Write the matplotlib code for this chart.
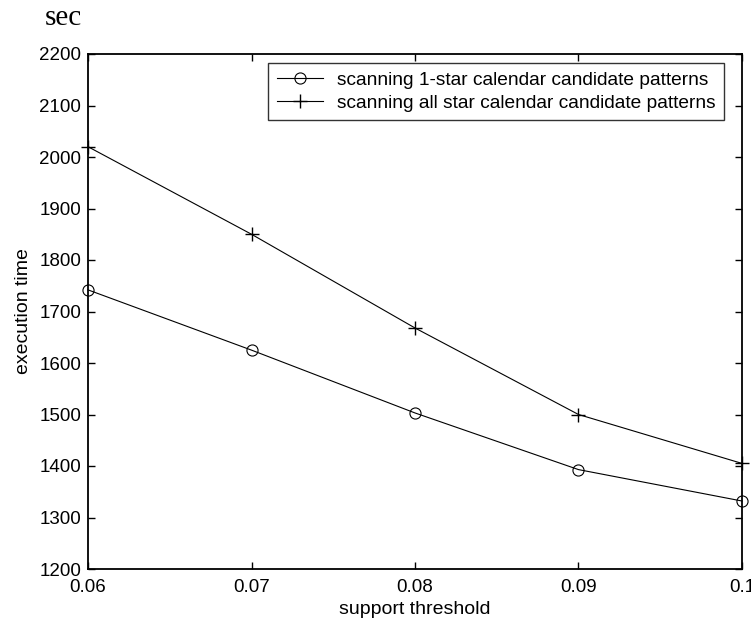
import matplotlib
matplotlib.use("Agg")
import matplotlib.pyplot as plt

support = [0.06, 0.07, 0.08, 0.09, 0.10]
one_star = [1742, 1625, 1503, 1393, 1332]
all_star = [2020, 1850, 1668, 1500, 1405]
xticks = [0.06, 0.07, 0.08, 0.09, 0.1]
xticklabels = ["0.06", "0.07", "0.08", "0.09", "0.1"]
yticks = list(range(1200, 2201, 100))

plt.rcParams['font.family'] = ['Liberation Sans', 'DejaVu Sans']

fig = plt.figure(figsize=(7.51, 6.22), dpi=100)
ax = fig.add_axes([88/751, 1 - 569/622, (742 - 88)/751, (569 - 54)/622])

ax.plot(support, one_star, color='black', lw=0.8, marker='o', ms=8,
        mfc='none', mec='black', mew=0.8,
        label='scanning 1-star calendar candidate patterns', clip_on=False)
ax.plot(support, all_star, color='black', lw=0.8, marker='+', ms=10,
        mew=1.0, label='scanning all star calendar candidate patterns', clip_on=False)

ax.set_xlim(0.06, 0.1)
ax.set_ylim(1200, 2200)
ax.set_xticks(xticks)
ax.set_xticklabels(xticklabels)
ax.set_yticks(yticks)
ax.tick_params(direction='in', top=True, right=True, length=5, width=1.0,
               labelsize=13.5)
ax.tick_params(axis='y', pad=5)
ax.tick_params(axis='x', pad=7)
for s in ax.spines.values():
    s.set_linewidth(1.3)

ax.set_xlabel('support threshold', fontsize=14, labelpad=4)
ax.set_ylabel('execution time', fontsize=14, labelpad=5)

leg = ax.legend(loc='upper left',
                bbox_to_anchor=(268/751, 1 - 63/622),
                bbox_transform=fig.transFigure,
                fontsize=13.8, frameon=True,
                fancybox=False, edgecolor='black', handlelength=2.4,
                borderpad=0.45, labelspacing=0.28, handletextpad=0.75,
                borderaxespad=0)
leg.get_frame().set_linewidth(1.0)

fig.text(63/751, 1 - 18/622, 'sec', family='Liberation Serif', fontsize=21,
         ha='center', va='center')

fig.savefig('out.png', dpi=100)
